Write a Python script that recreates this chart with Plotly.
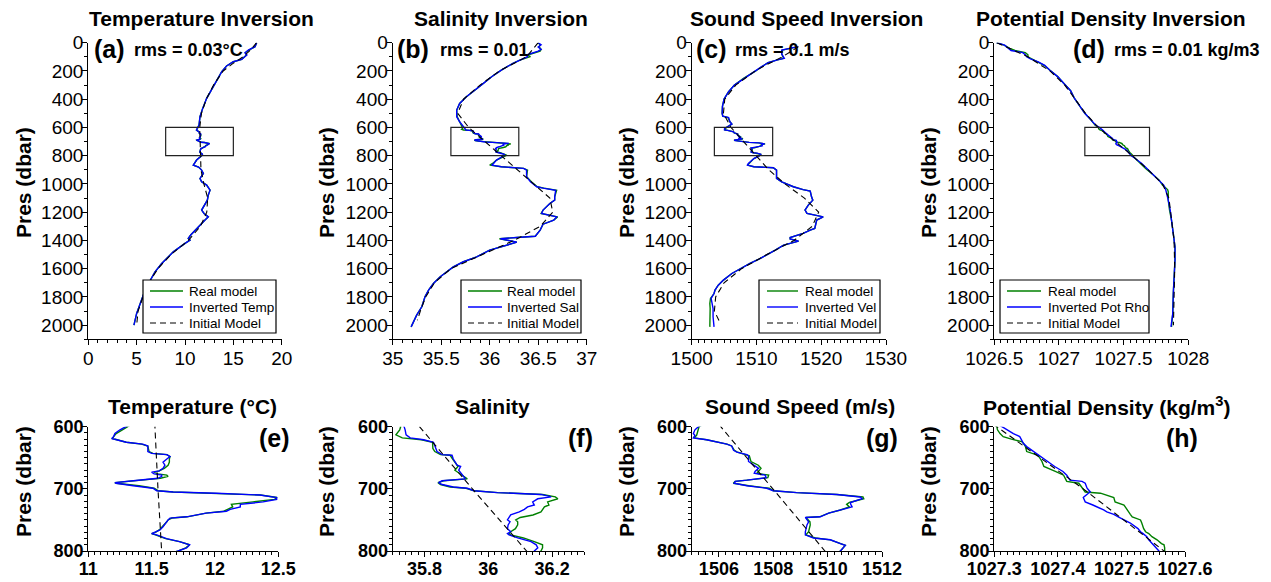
import plotly.graph_objects as go

W, H = 1271, 582
FONT = "Liberation Sans, Arial, Helvetica, sans-serif"

# ---------------- DATA ----------------
# Temperature (deg C) vs pressure (dbar)
temp_p = [0, 28, 52, 71, 87, 118, 135, 165, 205, 264, 323, 394, 465, 524, 583,
          600, 605, 611, 616, 619, 625, 628, 631, 640, 643, 645, 648, 652, 657, 662, 667, 671, 673, 676, 678,
          680, 683, 687, 690, 691, 695, 699, 703, 705, 707, 710, 714, 717, 721, 725, 729, 733, 736, 739, 745,
          747, 750, 753, 761, 766, 770, 772, 774, 780, 785, 790, 795, 800,
          831, 867, 880, 900, 925, 961, 985, 1008, 1044, 1079, 1115, 1150, 1185, 1209, 1233, 1256, 1292, 1327,
          1362, 1386, 1398, 1421, 1445, 1481, 1528, 1563, 1622, 1681, 1728, 1787, 1847, 1917, 2000]
temp_inv = [17.41, 17.24, 16.55, 16.2, 16.4, 15.86, 15.0, 14.3, 13.8, 13.3, 12.76, 12.24, 11.83, 11.55, 11.45,
            11.30, 11.25, 11.21, 11.20, 11.185, 11.30, 11.43, 11.47, 11.47, 11.50, 11.62, 11.645, 11.62, 11.59, 11.605,
            11.59, 11.56, 11.50, 11.52, 11.58, 11.58, 11.55, 11.355, 11.21, 11.22, 11.355, 11.51, 11.54, 11.67, 12.01,
            12.355, 12.487, 12.487, 12.38, 12.20, 12.20, 12.12, 12.09, 11.93, 11.776, 11.645, 11.63, 11.62, 11.59,
            11.566, 11.52, 11.50, 11.54, 11.618, 11.72, 11.80, 11.776, 11.71,
            11.2, 10.86, 11.4, 11.7, 11.9, 11.55, 11.72, 12.24, 12.59, 12.41, 12.31, 11.97, 11.72, 11.97, 12.41, 12.07,
            11.55, 11.03, 10.59, 10.34, 10.52, 10.0, 9.48, 8.79, 8.1, 7.59, 6.9, 6.38, 6.03, 5.69, 5.34, 5.0, 4.72]
temp_real = [17.41, 17.24, 16.6, 16.25, 16.35, 15.86, 15.0, 14.3, 13.8, 13.3, 12.76, 12.24, 11.83, 11.55, 11.45,
             11.31, 11.27, 11.22, 11.20, 11.19, 11.30, 11.42, 11.47, 11.48, 11.51, 11.62, 11.645, 11.64, 11.64, 11.63,
             11.60, 11.56, 11.52, 11.55, 11.62, 11.63, 11.57, 11.36, 11.21, 11.22, 11.40, 11.52, 11.55, 11.67, 12.01,
             12.36, 12.49, 12.47, 12.30, 12.13, 12.14, 12.10, 12.07, 11.93, 11.78, 11.66, 11.63, 11.62, 11.58,
             11.56, 11.53, 11.50, 11.53, 11.61, 11.72, 11.80, 11.77, 11.71,
             11.2, 10.86, 11.4, 11.7, 11.9, 11.55, 11.72, 12.24, 12.59, 12.41, 12.31, 11.97, 11.72, 11.97, 12.41, 12.07,
             11.55, 11.03, 10.59, 10.34, 10.52, 10.0, 9.48, 8.79, 8.1, 7.59, 6.9, 6.38, 6.03, 5.69, 5.34, 5.0, 4.72]
temp_init_p = [0, 50, 100, 150, 200, 300, 400, 500, 600, 700, 800, 900, 1000, 1100, 1200, 1300, 1400, 1500,
               1600, 1700, 1800, 1900, 2000]
temp_init = [17.4, 16.8, 16.0, 14.9, 13.95, 12.95, 12.2, 11.7, 11.526, 11.55, 11.579, 11.65, 11.95, 12.35, 12.25,
             11.6, 10.35, 8.55, 7.2, 6.25, 5.65, 5.15, 5.0]

# Salinity
sal_p = [0, 15, 30, 47, 60, 87, 99, 123, 146, 194, 241, 288, 335, 383, 430, 477, 524, 560, 585,
         600, 605, 613, 618, 621, 625, 635, 640, 645, 646, 652, 662, 664, 670, 677, 684, 687, 690, 693, 697,
         699, 703, 706, 709, 713, 716, 721, 726, 729, 733, 737, 742, 746, 750, 753, 758, 764, 769, 772, 774,
         779, 785, 790, 795, 800,
         831, 855, 867, 878, 890, 902, 949, 985, 1020, 1030, 1045, 1091, 1115, 1138, 1185, 1209, 1233, 1256,
         1285, 1327, 1370, 1379, 1388, 1412, 1433, 1469, 1516, 1551, 1587, 1622, 1657, 1705, 1752, 1799,
         1870, 1929, 2012]
sal_inv = [36.50, 36.53, 36.50, 36.53, 36.50, 36.38, 36.39, 36.31, 36.24, 36.12, 36.02, 35.935, 35.85, 35.76,
           35.69, 35.66, 35.66, 35.69, 35.72,
           35.736, 35.739, 35.742, 35.755, 35.797, 35.828, 35.834, 35.839, 35.855, 35.886, 35.89, 35.902, 35.913,
           35.907, 35.918, 35.928, 35.855, 35.844, 35.855, 35.89, 35.934, 35.955, 36.028, 36.165, 36.197, 36.155,
           36.139, 36.144, 36.123, 36.113, 36.097, 36.07, 36.065, 36.06, 36.068, 36.062, 36.06, 36.07, 36.06,
           36.065, 36.092, 36.134, 36.15, 36.155, 36.144,
           36.07, 36.04, 36.02, 36.12, 36.35, 36.38, 36.38, 36.42, 36.485, 36.55, 36.68, 36.67, 36.67, 36.62,
           36.55, 36.535, 36.69, 36.66, 36.55, 36.52, 36.47, 36.28, 36.11, 36.28, 36.175, 36.0, 35.866, 35.73,
           35.625, 35.557, 35.49, 35.42, 35.37, 35.333, 35.30, 35.247, 35.19]
sal_real = [36.50, 36.52, 36.51, 36.53, 36.52, 36.39, 36.42, 36.31, 36.24, 36.12, 36.02, 35.94, 35.85, 35.76,
            35.69, 35.66, 35.665, 35.69, 35.71,
            35.725, 35.722, 35.710, 35.730, 35.79, 35.825, 35.826, 35.832, 35.85, 35.88, 35.888, 35.90, 35.905,
            35.895, 35.915, 35.934, 35.86, 35.842, 35.85, 35.88, 35.93, 35.955, 36.03, 36.17, 36.21, 36.218,
            36.186, 36.19, 36.176, 36.17, 36.165, 36.14, 36.10, 36.086, 36.092, 36.092, 36.085, 36.07, 36.065,
            36.07, 36.11, 36.144, 36.17, 36.17, 36.165,
            36.07, 36.03, 36.00, 36.12, 36.35, 36.39, 36.38, 36.43, 36.49, 36.56, 36.69, 36.67, 36.67, 36.62,
            36.55, 36.53, 36.70, 36.66, 36.55, 36.52, 36.47, 36.28, 36.10, 36.28, 36.175, 36.0, 35.866, 35.73,
            35.625, 35.557, 35.49, 35.42, 35.37, 35.333, 35.30, 35.247, 35.19]
sal_init_p = [0, 100, 200, 300, 400, 500, 600, 700, 800, 900, 1000, 1100, 1200, 1300, 1400, 1500, 1600, 1700,
              1800, 1900, 1965]
sal_init = [36.5, 36.38, 36.1, 35.9, 35.73, 35.67, 35.784, 35.95, 36.12, 36.28, 36.45, 36.62, 36.65, 36.52,
            36.25, 35.92, 35.6, 35.43, 35.34, 35.285, 35.254]

# Sound speed (m/s)
vel_p = [28, 52, 80, 111, 123, 142, 170, 200, 253, 300, 347, 399, 450, 500, 520, 530, 560, 576, 590,
         600, 605, 611, 614, 618, 621, 628, 631, 638, 641, 645, 647, 656, 662, 667, 672, 675, 678, 682, 686,
         688, 691, 695, 699, 703, 706, 709, 713, 716, 722, 725, 729, 734, 739, 745, 746, 753, 758, 769, 774,
         779, 782, 788, 791, 800,
         820, 855, 867, 878, 885, 902, 961, 985, 1020, 1040, 1050, 1091, 1115, 1150, 1185, 1209, 1233, 1256,
         1315, 1327, 1350, 1379, 1390, 1405, 1420, 1433, 1469, 1504, 1535, 1563, 1599, 1634, 1681, 1717,
         1752, 1776, 1811, 1846, 1882, 1941, 2012]
vel_inv = [1516.4, 1513.9, 1513.9, 1514.3, 1513.1, 1511.8, 1510.8, 1509.8, 1508.0, 1506.6, 1505.7, 1505.0,
           1504.75, 1504.7, 1504.8, 1505.7, 1505.9, 1506.2, 1505.7,
           1505.25, 1505.12, 1505.06, 1505.12, 1505.06, 1505.55, 1506.29, 1506.47, 1506.54, 1506.66, 1507.03,
           1507.09, 1507.09, 1507.27, 1507.46, 1507.33, 1507.30, 1507.70, 1507.74, 1507.03, 1506.6, 1506.56,
           1507.03, 1507.76, 1508.0, 1508.87, 1510.34, 1511.2, 1511.27, 1510.84, 1510.85, 1510.9, 1510.47,
           1510.04, 1509.73, 1509.18, 1509.3, 1509.24, 1509.18, 1509.18, 1509.48, 1510.1, 1510.47, 1510.65,
           1510.47,
           1509.6, 1508.75, 1508.6, 1509.6, 1512.6, 1513.1, 1513.1, 1513.9, 1515.7, 1517.2, 1518.3, 1518.5,
           1518.7, 1518.0, 1517.5, 1517.8, 1520.3, 1519.3, 1519.0, 1518.3, 1517.2, 1515.2, 1515.2, 1516.5,
           1515.0, 1514.2, 1512.9, 1511.6, 1510.3, 1509.0, 1507.5, 1506.2, 1504.9, 1504.1, 1503.6, 1503.45,
           1503.0, 1503.2, 1503.3, 1503.3, 1503.45]
vel_real = [1516.4, 1514.0, 1513.9, 1514.2, 1513.1, 1511.8, 1510.8, 1509.9, 1508.0, 1506.6, 1505.7, 1505.0,
            1504.75, 1504.7, 1504.8, 1505.6, 1505.9, 1506.2, 1505.7,
            1505.27, 1505.25, 1505.20, 1505.18, 1505.08, 1505.55, 1506.3, 1506.47, 1506.57, 1506.68, 1507.03,
            1507.12, 1507.18, 1507.45, 1507.55, 1507.45, 1507.40, 1507.83, 1507.80, 1507.05, 1506.6, 1506.53,
            1507.1, 1507.85, 1508.0, 1508.87, 1510.34, 1511.3, 1511.33, 1510.8, 1510.7, 1510.8, 1510.47,
            1510.04, 1509.7, 1509.2, 1509.35, 1509.36, 1509.3, 1509.2, 1509.55, 1510.1, 1510.47, 1510.65,
            1510.47,
            1509.6, 1508.75, 1508.6, 1509.6, 1512.6, 1513.1, 1513.1, 1513.9, 1515.7, 1517.2, 1518.3, 1518.5,
            1518.7, 1518.0, 1517.5, 1517.8, 1520.3, 1519.3, 1519.0, 1518.3, 1517.2, 1515.2, 1515.2, 1516.5,
            1515.0, 1514.2, 1512.9, 1511.6, 1510.3, 1509.0, 1507.5, 1506.2, 1504.9, 1504.1, 1503.6, 1503.45,
            1502.9, 1502.8, 1502.85, 1502.8, 1502.8]
vel_init_p = [28, 100, 150, 200, 300, 400, 500, 600, 700, 800, 900, 1000, 1100, 1200, 1300, 1400, 1500, 1600,
              1700, 1800, 1900, 1985]
vel_init = [1516.5, 1514.0, 1511.8, 1509.8, 1506.8, 1505.1, 1504.9, 1506.07, 1508.0, 1509.9, 1511.9, 1514.4,
            1517.4, 1519.6, 1518.6, 1515.8, 1511.6, 1507.7, 1505.0, 1503.7, 1503.5, 1504.4]

# Potential density (kg/m3)
rho_p = [0, 17, 40, 55, 70, 85, 100, 115, 135, 160, 195, 240, 290, 340, 395, 450, 500, 550, 585,
         600, 605, 611, 616, 620, 624, 627, 632, 640, 646, 656, 664, 672, 678, 686, 688, 691, 699, 705, 707,
         714, 721, 726, 729, 734, 737, 741, 745, 750, 755, 764, 769, 772, 777, 782, 788, 790, 795, 800,
         820, 855, 890, 937, 973, 1008, 1040, 1055, 1115, 1185, 1256, 1351, 1445, 1540, 1634, 1776, 1917, 2012]
rho_inv = [1026.518, 1026.58, 1026.61, 1026.63, 1026.72, 1026.74, 1026.75, 1026.78, 1026.84, 1026.89, 1026.93,
           1026.99, 1027.04, 1027.09, 1027.12, 1027.16, 1027.20, 1027.25, 1027.285,
           1027.312, 1027.320, 1027.330, 1027.340, 1027.342, 1027.344, 1027.346, 1027.351, 1027.362, 1027.371,
           1027.383, 1027.395, 1027.408, 1027.414, 1027.419, 1027.438, 1027.443, 1027.446, 1027.451, 1027.448,
           1027.440, 1027.443, 1027.455, 1027.462, 1027.472, 1027.477, 1027.488, 1027.495, 1027.504, 1027.514,
           1027.526, 1027.530, 1027.534, 1027.540, 1027.543, 1027.548, 1027.550, 1027.554, 1027.559,
           1027.59, 1027.64, 1027.68, 1027.73, 1027.77, 1027.81, 1027.825, 1027.83, 1027.845, 1027.86, 1027.87,
           1027.884, 1027.897, 1027.897, 1027.89, 1027.884, 1027.88, 1027.866]
rho_real = [1026.518, 1026.575, 1026.62, 1026.66, 1026.74, 1026.76, 1026.76, 1026.79, 1026.84, 1026.885,
            1026.93, 1026.99, 1027.04, 1027.09, 1027.12, 1027.16, 1027.20, 1027.25, 1027.28,
            1027.304, 1027.305, 1027.309, 1027.314, 1027.327, 1027.343, 1027.346, 1027.349, 1027.351, 1027.369,
            1027.375, 1027.378, 1027.396, 1027.409, 1027.413, 1027.414, 1027.433, 1027.438, 1027.443, 1027.467,
            1027.488, 1027.490, 1027.504, 1027.506, 1027.509, 1027.511, 1027.514, 1027.517, 1027.530, 1027.532,
            1027.535, 1027.538, 1027.543, 1027.548, 1027.556, 1027.563, 1027.567, 1027.568, 1027.568,
            1027.59, 1027.635, 1027.67, 1027.73, 1027.775, 1027.80, 1027.84, 1027.845, 1027.845, 1027.855,
            1027.87, 1027.884, 1027.897, 1027.897, 1027.89, 1027.884, 1027.88, 1027.87]
rho_init_p = [0, 100, 200, 300, 400, 500, 600, 700, 800, 900, 1000, 1100, 1200, 1400, 1600, 1800, 2000]
rho_init = [1026.52, 1026.76, 1026.93, 1027.045, 1027.125, 1027.205, 1027.304, 1027.44, 1027.567, 1027.69,
            1027.80, 1027.85, 1027.865, 1027.89, 1027.895, 1027.89, 1027.885]

# Zoom boxes drawn on the top panels (x extents) and their pressure range
box_p = [600, 800]
box_x = [[8, 15], [35.6, 36.3], [1503.5, 1512.5], [1027.2, 1027.7]]

# Axis ranges and tick labels
top_ranges = [[0, 20], [35, 37], [1500, 1530], [1026.5, 1028]]
top_tickvals = [[0, 5, 10, 15, 20], [35, 35.5, 36, 36.5, 37], [1500, 1510, 1520, 1530],
                [1026.5, 1027, 1027.5, 1028]]
top_ticktext = [["0", "5", "10", "15", "20"], ["35", "35.5", "36", "36.5", "37"],
                ["1500", "1510", "1520", "1530"], ["1026.5", "1027", "1027.5", "1028"]]
top_minor = [1, 0.1, 1, 0.05]
bot_ranges = [[11, 12.5], [35.7, 36.3], [1505, 1512], [1027.3, 1027.6]]
bot_tickvals = [[11, 11.5, 12, 12.5], [35.8, 36, 36.2], [1506, 1508, 1510, 1512],
                [1027.3, 1027.4, 1027.5, 1027.6]]
bot_ticktext = [["11", "11.5", "12", "12.5"], ["35.8", "36", "36.2"], ["1506", "1508", "1510", "1512"],
                ["1027.3", "1027.4", "1027.5", "1027.6"]]
bot_minor = [0.05, 0.02, 0.25, 0.01]
top_p_ticks = [0, 200, 400, 600, 800, 1000, 1200, 1400, 1600, 1800, 2000]
bot_p_ticks = [600, 700, 800]

# Texts
titles_top = ["Temperature Inversion", "Salinity Inversion", "Sound Speed Inversion",
              "Potential Density Inversion"]
titles_bot = ["Temperature (°C)", "Salinity", "Sound Speed (m/s)", "Potential Density (kg/m<sup>3</sup>)"]
letters_top = ["(a)", "(b)", "(c)", "(d)"]
rms_texts = ["rms = 0.03°C", "rms = 0.01", "rms = 0.1 m/s", "rms = 0.01 kg/m3"]
letters_bot = ["(e)", "(f)", "(g)", "(h)"]
legend_real = "Real model"
legend_inv = ["Inverted Temp", "Inverted Sal", "Inverted Vel", "Inverted Pot Rho"]
legend_init = "Initial Model"
ytitle = "Pres (dbar)"

series = [
    (temp_p, temp_real, temp_inv, temp_init_p, temp_init),
    (sal_p, sal_real, sal_inv, sal_init_p, sal_init),
    (vel_p, vel_real, vel_inv, vel_init_p, vel_init),
    (rho_p, rho_real, rho_inv, rho_init_p, rho_init),
]

# ---------------- LAYOUT (pixel geometry) ----------------
def X(px):
    return px / W


def Y(py):
    return 1 - py / H


top_x_px = [(88.3, 281.7), (392.7, 586.7), (691.7, 886.0), (994.3, 1188.3)]
bot_x_px = [(88.3, 278.3), (392.7, 584.0), (691.7, 882.0), (994.3, 1185.0)]
top_y_px = (42.7, 339.3)
bot_y_px = (426.7, 551.0)

GREEN = "#008000"
BLUE = "#0000ff"
LW = 1.4

fig = go.Figure()

for i, (p, real, inv, ip, init) in enumerate(series):
    for row in (0, 1):
        n = i + 1 + 4 * row
        xa, ya = f"x{n}", f"y{n}"
        fig.add_trace(go.Scatter(x=real, y=p, mode="lines", line=dict(color=GREEN, width=LW),
                                 xaxis=xa, yaxis=ya, showlegend=False, hoverinfo="skip"))
        fig.add_trace(go.Scatter(x=inv, y=p, mode="lines", line=dict(color=BLUE, width=LW),
                                 xaxis=xa, yaxis=ya, showlegend=False, hoverinfo="skip"))
        fig.add_trace(go.Scatter(x=init, y=ip, mode="lines",
                                 line=dict(color="black", width=1.1, dash="6px,4px"),
                                 xaxis=xa, yaxis=ya, showlegend=False, hoverinfo="skip"))

axis_common = dict(showline=True, linecolor="black", linewidth=1.2, ticks="outside", ticklen=5,
                   tickwidth=1.2, tickcolor="black", showgrid=False, zeroline=False,
                   color="black", automargin=False)

layout = dict(template="none", width=W, height=H, margin=dict(l=0, r=0, t=0, b=0, pad=0, autoexpand=False),
              showlegend=False, paper_bgcolor="white", plot_bgcolor="white",
              font=dict(family=FONT, color="black"))

for i in range(4):
    # top row
    n = i + 1
    layout[f"xaxis{n}"] = dict(axis_common, domain=[X(top_x_px[i][0]), X(top_x_px[i][1])],
                               range=top_ranges[i], tickvals=top_tickvals[i], ticktext=top_ticktext[i],
                               anchor=f"y{n}", tickfont=dict(size=19, family=FONT), ticklabelstandoff=-3,
                               minor=dict(ticks="outside", ticklen=3, tickwidth=1, tickcolor="black",
                                          dtick=top_minor[i], tick0=top_ranges[i][0], showgrid=False))
    layout[f"yaxis{n}"] = dict(axis_common, domain=[Y(top_y_px[1]), Y(top_y_px[0])],
                               range=[2100, 0], tickvals=top_p_ticks, anchor=f"x{n}",
                               tickfont=dict(size=19, family=FONT), ticklabelstandoff=-5,
                               minor=dict(ticks="outside", ticklen=3, tickwidth=1, tickcolor="black",
                                          dtick=100, tick0=0, showgrid=False))
    # bottom row
    m = i + 5
    layout[f"xaxis{m}"] = dict(axis_common, domain=[X(bot_x_px[i][0]), X(bot_x_px[i][1])],
                               range=bot_ranges[i], tickvals=bot_tickvals[i], ticktext=bot_ticktext[i],
                               anchor=f"y{m}", tickfont=dict(size=18, family=FONT, weight="bold"),
                               ticklabelstandoff=-4,
                               minor=dict(ticks="outside", ticklen=3, tickwidth=1, tickcolor="black",
                                          dtick=bot_minor[i], tick0=bot_ranges[i][0], showgrid=False))
    layout[f"yaxis{m}"] = dict(axis_common, domain=[Y(bot_y_px[1]), Y(bot_y_px[0])],
                               range=[800, 600], tickvals=bot_p_ticks, anchor=f"x{m}",
                               tickfont=dict(size=18, family=FONT, weight="bold"), ticklabelstandoff=-5,
                               minor=dict(ticks="outside", ticklen=3, tickwidth=1, tickcolor="black",
                                          dtick=10, tick0=600, showgrid=False))

fig.update_layout(**layout)

# ---------------- shapes: zoom boxes + legends ----------------
shapes = []
for i in range(4):
    shapes.append(dict(type="rect", xref=f"x{i + 1}", yref=f"y{i + 1}",
                       x0=box_x[i][0], x1=box_x[i][1], y0=box_p[0], y1=box_p[1],
                       line=dict(color="#222222", width=1.2), layer="above"))

leg_box_px = [(143, 276), (461, 581), (759, 880), (1000, 1149)]
leg_line_px = [(150, 183), (468, 502), (767, 798), (1007, 1041)]
leg_text_px = [187, 505, 803, 1046]
leg_y_px = (280, 333)
leg_rows_px = [291, 307, 323]

annotations = []
for i in range(4):
    shapes.append(dict(type="rect", xref="paper", yref="paper",
                       x0=X(leg_box_px[i][0]), x1=X(leg_box_px[i][1]),
                       y0=Y(leg_y_px[1]), y1=Y(leg_y_px[0]),
                       line=dict(color="black", width=1.2), fillcolor="white", layer="above"))
    styles = [dict(color=GREEN, width=1.4), dict(color=BLUE, width=1.4),
              dict(color="black", width=1.1, dash="6px,4px")]
    labels = [legend_real, legend_inv[i], legend_init]
    for r in range(3):
        shapes.append(dict(type="line", xref="paper", yref="paper",
                           x0=X(leg_line_px[i][0]), x1=X(leg_line_px[i][1]),
                           y0=Y(leg_rows_px[r]), y1=Y(leg_rows_px[r]), line=styles[r], layer="above"))
        annotations.append(dict(xref="paper", yref="paper", x=X(leg_text_px[i]), y=Y(leg_rows_px[r]),
                                text=labels[r], showarrow=False, xanchor="left", yanchor="middle",
                                font=dict(family=FONT, size=13.5, color="black")))

# ---------------- text annotations ----------------
title_top_cx = [201, 501, 806, 1111]
title_bot_cx = [192.5, 492, 800, 1106]
letter_top_cx = [109, 413, 711, 1088.5]
rms_left = [132, 438, 733, 1112]
letter_bot_cx = [274, 580, 881.5, 1181.5]
ytitle_cx = [23, 326, 626, 928]


def txt(x, y, text, size, xanchor="center", bold=True, angle=0):
    return dict(xref="paper", yref="paper", x=X(x), y=Y(y), text=text, showarrow=False,
                xanchor=xanchor, yanchor="middle", textangle=angle,
                font=dict(family=FONT, size=size, color="black", weight="bold" if bold else "normal"))


for i in range(4):
    annotations.append(txt(title_top_cx[i], 18, titles_top[i], 21))
    annotations.append(txt(title_bot_cx[i], 406, titles_bot[i], 21))
    annotations.append(txt(letter_top_cx[i], 48.5, letters_top[i], 25))
    annotations.append(txt(rms_left[i], 50, rms_texts[i], 18, xanchor="left"))
    annotations.append(txt(letter_bot_cx[i], 438, letters_bot[i], 25))
    annotations.append(txt(ytitle_cx[i], 183, ytitle, 21, angle=-90))
    annotations.append(txt(ytitle_cx[i], 482, ytitle, 21, angle=-90))

fig.update_layout(shapes=shapes, annotations=annotations)

# remove the browser's default 8px page margin so the figure sits at the window origin
fig.write_html("out.html", config={"displayModeBar": False},
               post_script="document.body.style.margin='0px';")
